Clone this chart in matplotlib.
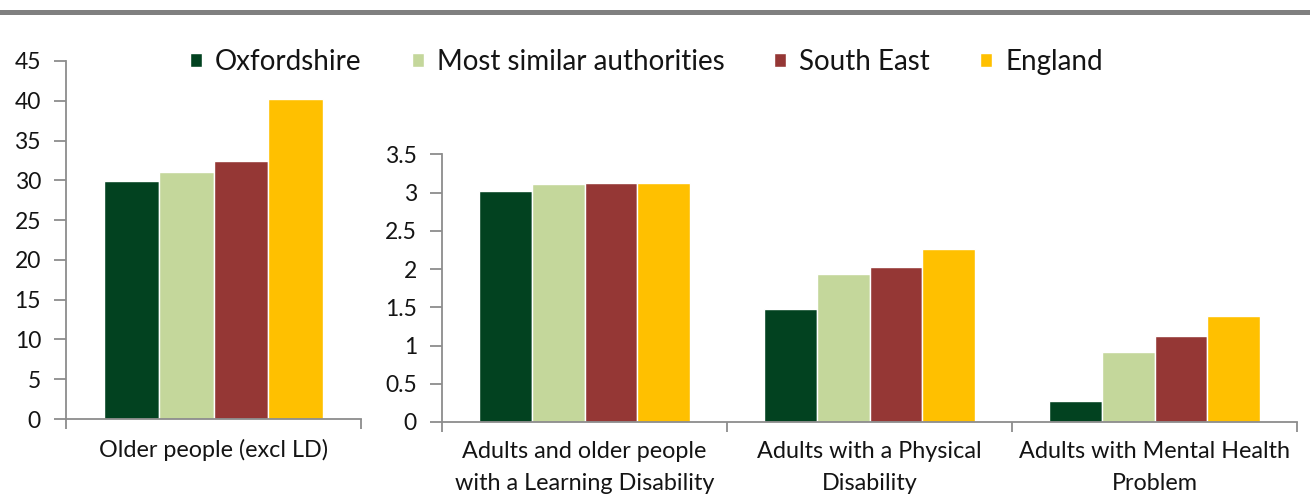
import numpy as np
import matplotlib.pyplot as plt
from matplotlib.patches import Rectangle

plt.rcParams['font.family'] = ['Lato', 'DejaVu Sans']

# Daten
series = ['Oxfordshire', 'Most similar authorities', 'South East', 'England']
colours = ['#024220', '#C4D79B', '#953735', '#FFC000']

left_cats = ['Older people (excl LD)']
left_vals = {
    'Oxfordshire': [29.9],
    'Most similar authorities': [31.1],
    'South East': [32.4],
    'England': [40.2],
}

right_cats = ['Adults and older people\nwith a Learning Disability',
              'Adults with a Physical\nDisability',
              'Adults with Mental Health\nProblem']
right_vals = {
    'Oxfordshire': [3.02, 1.48, 0.27],
    'Most similar authorities': [3.11, 1.94, 0.91],
    'South East': [3.13, 2.03, 1.12],
    'England': [3.13, 2.26, 1.39],
}

W, H = 1310, 497
fig = plt.figure(figsize=(W / 100, H / 100), dpi=100)

# grauer Balken oben
fig.add_artist(Rectangle((0, 1 - 15 / H), 1, 5 / H, transform=fig.transFigure,
                         color='#808080', lw=0))

ax1 = fig.add_axes([66 / W, 1 - 419 / H, 295 / W, 358 / H])
ax2 = fig.add_axes([442 / W, 1 - 422 / H, 855 / W, 267.7 / H])

slot = 0.185
axis_col = '#8c8c8c'
text_col = '#141414'


def draw(ax, cats, vals, ymax, ystep):
    x = np.arange(len(cats))
    handles = []
    for i, s in enumerate(series):
        off = (i - 1.5) * slot
        b = ax.bar(x + off, vals[s], slot, color=colours[i], edgecolor='white',
                   linewidth=1, label=s)
        handles.append(b)
    ax.set_xlim(-0.5, len(cats) - 0.5)
    ax.set_ylim(0, ymax)
    ax.set_yticks(np.arange(0, ymax + ystep / 2, ystep))
    ax.yaxis.set_major_formatter(plt.FuncFormatter(lambda v, p: '%g' % v))
    ax.set_xticks(x)
    ax.set_xticklabels(cats, fontsize=16.8, color=text_col, linespacing=1.62)
    ax.set_xticks(np.arange(-0.5, len(cats)), minor=True)
    ax.tick_params(axis='x', which='major', length=0, pad=14)
    ax.tick_params(axis='x', which='minor', length=7, color=axis_col, width=1.3)
    ax.tick_params(axis='y', length=9, color=axis_col, width=1.3, pad=9,
                   labelsize=16.5, labelcolor=text_col)
    for sp in ['top', 'right']:
        ax.spines[sp].set_visible(False)
    for sp in ['left', 'bottom']:
        ax.spines[sp].set_color(axis_col)
        ax.spines[sp].set_linewidth(1.3)
    for lab in ax.get_xticklabels():
        lab.set_verticalalignment('top')
    return handles


handles = draw(ax1, left_cats, left_vals, 45, 5)
draw(ax2, right_cats, right_vals, 3.5, 0.5)

fig.legend(handles, series, loc='center left', bbox_to_anchor=(190 / W, 1 - 62 / H),
           ncol=4, frameon=False, fontsize=20, handlelength=0.43, handleheight=0.43,
           handletextpad=0.47, columnspacing=1.8, labelcolor=text_col,
           borderpad=0, borderaxespad=0)

fig.savefig('out.png', dpi=100)
